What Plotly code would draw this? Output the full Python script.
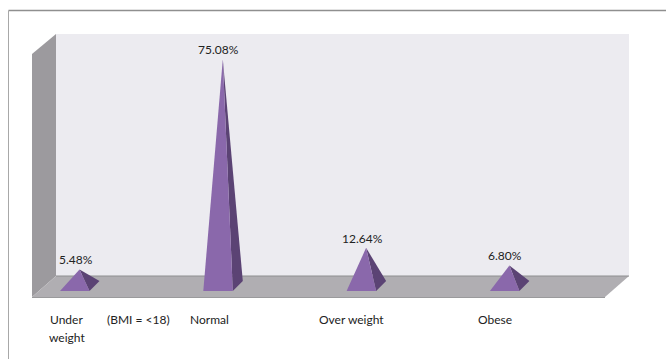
import plotly.graph_objects as go

# Share of respondents per BMI class
categories = ["Under weight", "Normal", "Over weight", "Obese"]
values = [5.48, 75.08, 12.64, 6.80]
value_labels = ["5.48%", "75.08%", "12.64%", "6.80%"]
axis_labels = ["Under", "weight", "(BMI = <18)", "Normal", "Over weight", "Obese"]
axis_label_pos = [-0.09, -0.085, 0.41, 0.905, 1.9, 2.9]
axis_label_row = [0, 1, 0, 0, 0, 0]

W, H = 666, 359
PX_X = 143.3       # pixels per category step
PX_Y = 3.02        # pixels per percentage point
X0, Y0 = 79.5, 286 # pixel position of the first category on the zero line

FRONT = "#8a68ab"
SIDE = "#5b4374"


def page(points):
    """SVG path in paper coordinates from page pixels."""
    parts = [f"{x / W:.5f},{1 - y / H:.5f}" for x, y in points]
    return "M" + " L".join(parts) + " Z"


def panel(points, fill, line=None):
    return dict(type="path", xref="paper", yref="paper", layer="below",
                path=page(points), fillcolor=fill,
                line=dict(width=1 if line else 0, color=line or fill))


shapes = [
    panel([(56, 34), (629, 34), (629, 276), (56, 276)], "#ecebf0"),
    panel([(32, 54), (56, 34), (56, 276), (32, 297)], "#9c9a9e"),
    panel([(32, 297), (56, 276), (629, 276), (605, 297)], "#b0aeb2"),
    dict(type="line", xref="paper", yref="paper", layer="below",
         x0=56 / W, x1=629 / W, y0=1 - 276 / H, y1=1 - 276 / H,
         line=dict(color="#8e8e90", width=1)),
    dict(type="line", xref="paper", yref="paper", layer="below",
         x0=32 / W, x1=605 / W, y0=1 - 297.5 / H, y1=1 - 297.5 / H,
         line=dict(color="#9a9a9c", width=1)),
    # outer frame: top and left rules only
    dict(type="line", xref="paper", yref="paper", layer="below",
         x0=8.5 / W, x1=1, y0=1 - 10.5 / H, y1=1 - 10.5 / H,
         line=dict(color="#8f8f8f", width=1.5)),
    dict(type="line", xref="paper", yref="paper", layer="below",
         x0=8.5 / W, x1=8.5 / W, y0=0, y1=1 - 10.5 / H,
         line=dict(color="#a8a8a8", width=1)),
]

fig = go.Figure()

# Base corners relative to the pyramid centre, in axis units
dx = lambda px: px / PX_X
dy = lambda px: px / PX_Y

for i, (name, v) in enumerate(zip(categories, values)):
    side_x = [i + dx(10), i + dx(20), i, i + dx(10)]
    side_y = [dy(-5), dy(5), v, dy(-5)]
    fig.add_trace(go.Scatter(x=side_x, y=side_y, mode="lines", fill="toself",
                             fillcolor=SIDE, line=dict(width=0),
                             name=name, hoverinfo="skip"))
    front_x = [i - dx(19.5), i + dx(10), i, i - dx(19.5)]
    front_y = [dy(-5), dy(-5), v, dy(-5)]
    fig.add_trace(go.Scatter(x=front_x, y=front_y, mode="lines", fill="toself",
                             fillcolor=FRONT, line=dict(width=0),
                             name=name, hoverinfo="text", text=value_labels[i]))

annotations = []
FONT = dict(family="Lato, Carlito, sans-serif", size=12, color="#222222")

for i, (v, label) in enumerate(zip(values, value_labels)):
    annotations.append(dict(x=i, y=v, xref="x", yref="y", text=label,
                            showarrow=False, font=FONT, xanchor="center",
                            yanchor="bottom", xshift=-4, yshift=0))

for pos, row, label in zip(axis_label_pos, axis_label_row, axis_labels):
    annotations.append(dict(x=pos, y=1 - (310 + 18 * row) / H, xref="x", yref="paper",
                            text=label, showarrow=False, font=FONT, xanchor="center",
                            yanchor="top", align="center"))

fig.update_layout(
    width=W, height=H,
    margin=dict(l=0, r=0, t=0, b=0),
    paper_bgcolor="white", plot_bgcolor="rgba(0,0,0,0)",
    showlegend=False,
    shapes=shapes,
    annotations=annotations,
    xaxis=dict(range=[-X0 / PX_X, (W - X0) / PX_X], visible=False, fixedrange=True),
    yaxis=dict(range=[-(H - Y0) / PX_Y, Y0 / PX_Y], visible=False, fixedrange=True),
)

fig.write_html("out.html")
